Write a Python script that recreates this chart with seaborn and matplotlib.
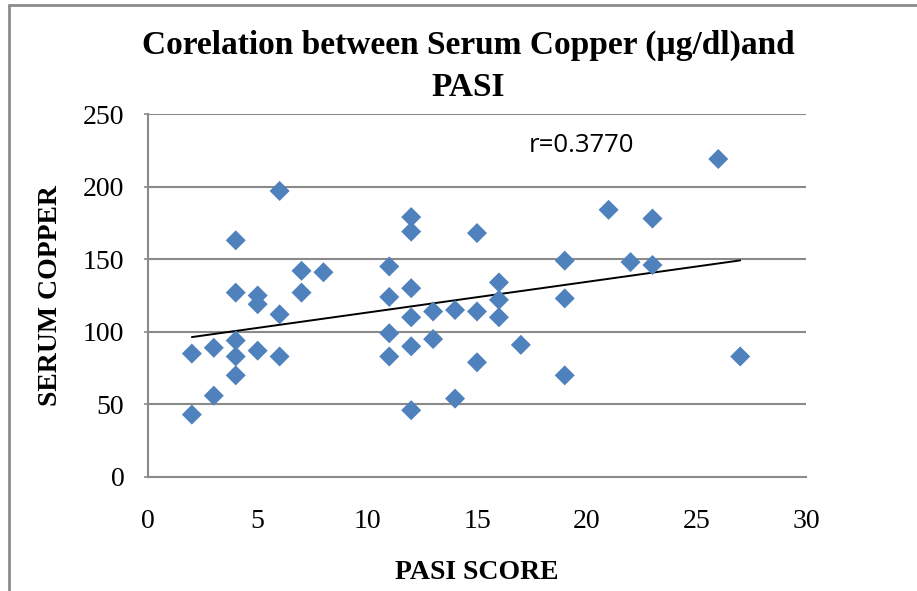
import numpy as np
import pandas as pd
import matplotlib
matplotlib.use("Agg")
import matplotlib.pyplot as plt
import seaborn as sns
from matplotlib.lines import Line2D

# values
pasi = [2, 2, 3, 3, 4, 4, 4, 4, 4, 5, 5, 5, 6, 6, 6, 7, 7, 8,
        11, 11, 11, 11, 12, 12, 12, 12, 12, 12, 13, 13, 14, 14,
        15, 15, 15, 16, 16, 16, 17, 19, 19, 19, 21, 22, 23, 23, 26, 27]
copper = [85, 43, 89, 56, 163, 127, 94, 83, 70, 125, 119, 87, 197, 112, 83, 142, 127, 141,
          145, 124, 99, 83, 179, 169, 130, 110, 90, 46, 114, 95, 115, 54,
          168, 114, 79, 134, 122, 110, 91, 149, 123, 70, 184, 148, 178, 146, 219, 83]
x_ticks = [0, 5, 10, 15, 20, 25, 30]
y_ticks = [0, 50, 100, 150, 200, 250]

df = pd.DataFrame({"pasi": pasi, "copper": copper})

sns.set_theme(style="white")
plt.rcParams["font.family"] = ["Liberation Serif", "DejaVu Serif"]
plt.rcParams["text.color"] = "black"
plt.rcParams["axes.labelcolor"] = "black"
plt.rcParams["xtick.color"] = "black"
plt.rcParams["ytick.color"] = "black"

fig = plt.figure(figsize=(9.17, 5.91), dpi=100)
ax = fig.add_axes([148/917, 1 - 477/591, 658/917, 363/591])

grid_col = "#8a8a8a"
sns.scatterplot(data=df, x="pasi", y="copper", marker="D", s=104,
                color="#4f81bd", edgecolor="none", ax=ax, zorder=3)
sns.regplot(data=df, x="pasi", y="copper", scatter=False, ci=None,
            color="black", line_kws={"linewidth": 1.4}, ax=ax)

ax.set_xlim(0, 30)
ax.set_ylim(0, 250)
ax.set_xticks(x_ticks)
ax.set_yticks(y_ticks)
for yv in y_ticks[1:]:
    ax.axhline(yv, color=grid_col, linewidth=1.5, zorder=1)

for side in ["top", "right"]:
    ax.spines[side].set_visible(False)
for side in ["left", "bottom"]:
    ax.spines[side].set_color(grid_col)
    ax.spines[side].set_linewidth(1.5)

ax.tick_params(axis="y", which="major", length=3, color=grid_col, width=1.2,
               labelsize=20, pad=14, left=True, labelcolor="black")
ax.tick_params(axis="x", which="major", length=0, labelsize=20, pad=23,
               bottom=False, labelcolor="black")

ax.set_xlabel("PASI SCORE", fontsize=20, fontweight="bold", labelpad=19)
ax.set_ylabel("SERUM COPPER", fontsize=20, fontweight="bold", labelpad=14)

fig.text(468/917, 1 - 45/591, "Corelation between Serum Copper (µg/dl)and",
         ha="center", va="center", fontsize=24, fontweight="bold")
fig.text(468/917, 1 - 87/591, "PASI", ha="center", va="center",
         fontsize=24, fontweight="bold")

ax.text(19.75, 228, "r=0.3770", ha="center", va="center", fontsize=18.5,
        family=["Open Sans", "DejaVu Sans"], color="black")

# outer chart frame (left and top edges visible)
fig.add_artist(Line2D([8.5/917, 8.5/917], [0, 1 - 5/591], transform=fig.transFigure,
                      color="#8c8c8c", linewidth=2))
fig.add_artist(Line2D([8.5/917, 1], [1 - 5/591, 1 - 5/591], transform=fig.transFigure,
                      color="#8c8c8c", linewidth=2))

fig.savefig("out.png", dpi=100)
